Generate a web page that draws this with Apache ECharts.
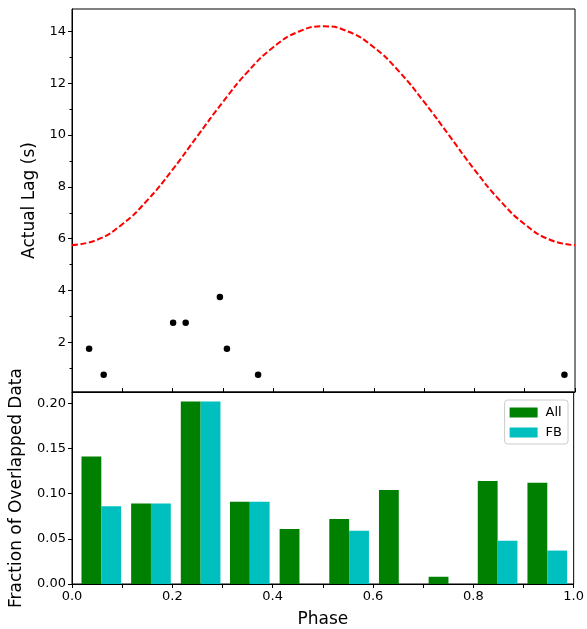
<!DOCTYPE html>
<html>
<head>
<meta charset="utf-8">
<script src="https://cdn.jsdelivr.net/npm/echarts@6/dist/echarts.min.js"></script>
<style>
  html, body { margin: 0; padding: 0; background: #fff; }
  #chart { width: 587px; height: 629px; }
</style>
</head>
<body>
<div id="chart"></div>
<script>
// model curve
const curvePhase = [0, 0.05, 0.1, 0.15, 0.2, 0.25, 0.3, 0.35, 0.4, 0.45, 0.5,
  0.55, 0.6, 0.65, 0.7, 0.75, 0.8, 0.85, 0.9, 0.95, 1.0];
const curveLag = [5.75, 5.96, 6.56, 7.49, 8.67, 9.98, 11.28, 12.46, 13.39, 13.99, 14.2,
  13.99, 13.39, 12.46, 11.28, 9.98, 8.67, 7.49, 6.56, 5.96, 5.75];

// measured lags
const dotPhase = [0.034, 0.063, 0.201, 0.226, 0.294, 0.308, 0.370, 0.979];
const dotLag = [1.75, 0.75, 2.75, 2.75, 3.75, 1.75, 0.75, 0.75];

// histogram
const binLeft = [0.009, 0.108, 0.207, 0.305, 0.404, 0.503, 0.602, 0.701, 0.799, 0.898];
const binWidth = 0.0988;
const fracAll = [0.141, 0.089, 0.202, 0.091, 0.061, 0.072, 0.104, 0.008, 0.114, 0.112];
const fracFB = [0.086, 0.089, 0.202, 0.091, 0, 0.059, 0, 0, 0.048, 0.037];

// ticks
const lagMajor = [2, 4, 6, 8, 10, 12, 14];
const lagMinor = [1, 3, 5, 7, 9, 11, 13];
const fracTicks = [0, 0.05, 0.1, 0.15, 0.2];

const font = 'DejaVu Sans';
const chart = echarts.init(document.getElementById('chart'));

function barRenderer(off0, off1) {
  return function (params, api) {
    const left = api.value(0);
    const val = api.value(1);
    const p0 = api.coord([left + binWidth * off0, val]);
    const p1 = api.coord([left + binWidth * off1, 0]);
    return {
      type: 'rect',
      shape: { x: p0[0], y: p0[1], width: p1[0] - p0[0], height: p1[1] - p0[1] },
      style: { fill: api.visual('color') }
    };
  };
}

const tickLabel = { color: '#000', fontFamily: font, fontSize: 13 };
const blackLine = { lineStyle: { color: '#000', width: 1 } };

const options = {
  animation: false,
  grid: [
    { left: 72, top: 9, width: 503, height: 383, show: true, borderColor: '#000', borderWidth: 1 },
    { left: 72, top: 392, width: 503, height: 193, show: true, borderColor: '#000', borderWidth: 1 }
  ],
  legend: {
    data: ['All', 'FB'],
    orient: 'vertical',
    right: 19,
    top: 400,
    itemWidth: 28,
    itemHeight: 10,
    itemGap: 7,
    padding: [6, 6, 5, 5],
    borderColor: '#cccccc',
    borderWidth: 1,
    borderRadius: 3,
    backgroundColor: 'rgba(255,255,255,0.8)',
    icon: 'rect',
    textStyle: { color: '#000', fontFamily: font, fontSize: 13, padding: [0, 0, 0, 3] }
  },
  xAxis: [
    {
      type: 'value', gridIndex: 0, min: 0, max: 1, interval: 0.1,
      axisLine: blackLine,
      axisTick: { inside: true, length: 4, lineStyle: { color: '#000' } },
      axisLabel: { show: false },
      splitLine: { show: false }
    },
    {
      type: 'value', gridIndex: 1, min: 0, max: 1, interval: 0.1,
      name: 'Phase', nameLocation: 'middle', nameGap: 27,
      nameTextStyle: { color: '#000', fontFamily: font, fontSize: 17 },
      axisLine: blackLine,
      axisTick: { length: 4, lineStyle: { color: '#000' } },
      axisLabel: Object.assign({
        margin: 6,
        formatter: v => (Math.round(v * 10) % 2 === 0 ? v.toFixed(1) : '')
      }, tickLabel),
      splitLine: { show: false }
    }
  ],
  yAxis: [
    {
      type: 'value', gridIndex: 0, min: 0.08, max: 14.87,
      name: 'Actual Lag (s)', nameLocation: 'middle', nameGap: 34,
      nameTextStyle: { color: '#000', fontFamily: font, fontSize: 17 },
      axisLine: blackLine,
      axisTick: { length: 4, customValues: lagMajor, lineStyle: { color: '#000' } },
      axisLabel: Object.assign({ margin: 6, customValues: lagMajor }, tickLabel),
      splitLine: { show: false }
    },
    {
      type: 'value', gridIndex: 0, min: 0.08, max: 14.87, position: 'left',
      axisLine: { show: false },
      axisTick: { length: 2.5, customValues: lagMinor, lineStyle: { color: '#000' } },
      axisLabel: { show: false },
      splitLine: { show: false }
    },
    {
      type: 'value', gridIndex: 1, min: 0, max: 0.2125,
      name: 'Fraction of Overlapped Data', nameLocation: 'middle', nameGap: 47,
      nameTextStyle: { color: '#000', fontFamily: font, fontSize: 17 },
      axisLine: blackLine,
      axisTick: { length: 4, customValues: fracTicks, lineStyle: { color: '#000' } },
      axisLabel: Object.assign({
        margin: 6, customValues: fracTicks,
        formatter: v => v.toFixed(2)
      }, tickLabel),
      splitLine: { show: false }
    }
  ],
  series: [
    {
      name: 'model', type: 'line', xAxisIndex: 0, yAxisIndex: 0,
      data: curvePhase.map((p, i) => [p, curveLag[i]]),
      smooth: true, showSymbol: false,
      lineStyle: { color: '#ff0000', width: 2, type: [6, 2.6] }
    },
    {
      name: 'lags', type: 'scatter', xAxisIndex: 0, yAxisIndex: 0,
      data: dotPhase.map((p, i) => [p, dotLag[i]]),
      symbolSize: 6.5,
      itemStyle: { color: '#000', opacity: 1 }
    },
    {
      name: 'All', type: 'custom', xAxisIndex: 1, yAxisIndex: 2,
      data: binLeft.map((b, i) => [b, fracAll[i]]),
      itemStyle: { color: '#008000' },
      renderItem: barRenderer(0.1, 0.5)
    },
    {
      name: 'FB', type: 'custom', xAxisIndex: 1, yAxisIndex: 2,
      data: binLeft.map((b, i) => [b, fracFB[i]]),
      itemStyle: { color: '#00bfbf' },
      renderItem: barRenderer(0.5, 0.9)
    }
  ]
};

chart.setOption(options);
</script>
</body>
</html>
